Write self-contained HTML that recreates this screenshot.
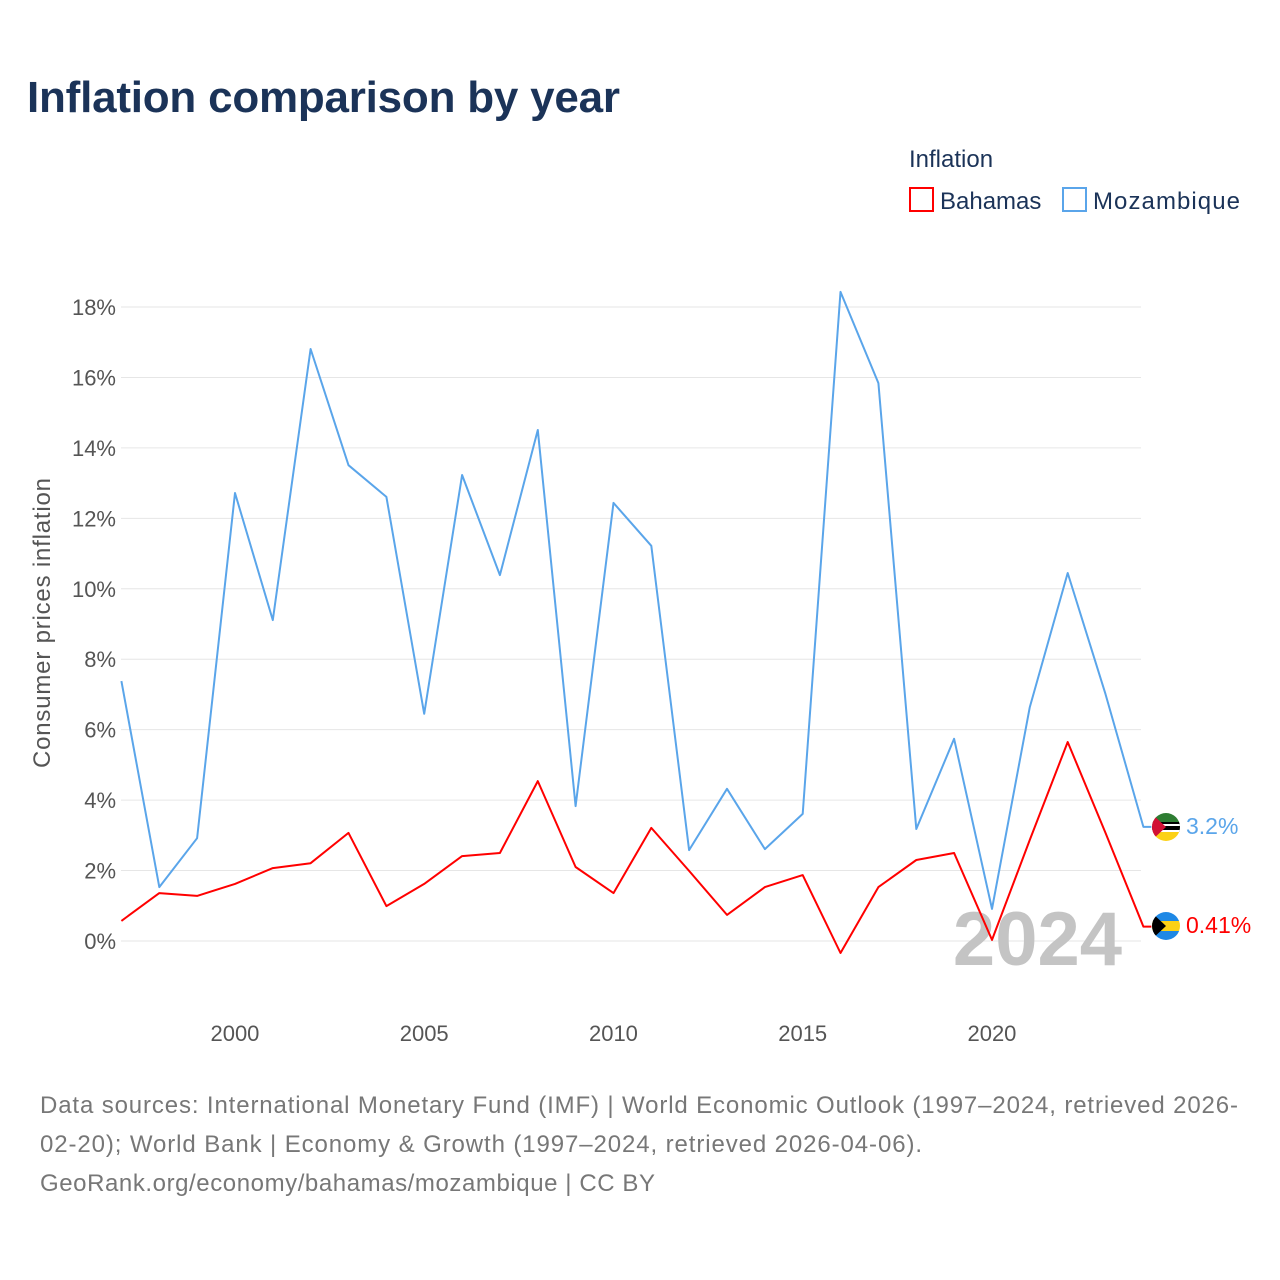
<!DOCTYPE html>
<html><head><meta charset="utf-8">
<style>
body{margin:0;background:#fff;font-family:"Liberation Sans",sans-serif;}
#wrap{position:relative;width:1280px;height:1280px;overflow:hidden;}
</style></head>
<body>
<div id="wrap">
<svg id="chart" width="1280" height="1280" xmlns="http://www.w3.org/2000/svg">
<text x="27" y="112" font-size="44" font-weight="bold" fill="#1b3358" textLength="593">Inflation comparison by year</text>
<text x="909" y="167" font-size="24" fill="#1b3358">Inflation</text>
<g><rect x="910" y="188" width="23" height="23" fill="none" stroke="#f00" stroke-width="2"/><text x="940" y="209" font-size="24" fill="#1b3358">Bahamas</text></g>
<g><rect x="1063" y="188" width="23" height="23" fill="none" stroke="#5aa5ea" stroke-width="2"/><text x="1093" y="209" font-size="24" fill="#1b3358" textLength="147">Mozambique</text></g>
<g id="grid"></g>
<g id="yticks"></g>
<g id="xticks"></g>
<text transform="translate(50,623) rotate(-90)" text-anchor="middle" font-size="24" fill="#555" textLength="290">Consumer prices inflation</text>
<text x="1122" y="965" text-anchor="end" font-size="76" font-weight="bold" fill="#c4c4c4">2024</text>
<g id="series"></g>
<g>
<clipPath id="c1"><circle cx="1166" cy="827" r="14"/></clipPath>
<g clip-path="url(#c1)"><rect x="1150" y="812" width="32" height="10" fill="#2e7d32"/><rect x="1150" y="822" width="32" height="10" fill="#000"/><rect x="1150" y="824" width="32" height="2" fill="#fff"/><rect x="1150" y="830" width="32" height="2" fill="#fff"/><rect x="1150" y="832" width="32" height="10" fill="#fcd116"/><polygon points="1150,812 1166,827 1150,842" fill="#d21034"/></g></g>
<g>
<clipPath id="c2"><circle cx="1166" cy="926" r="14"/></clipPath>
<g clip-path="url(#c2)"><rect x="1150" y="911" width="32" height="10" fill="#1e88e5"/><rect x="1150" y="921" width="32" height="10" fill="#fcd116"/><rect x="1150" y="931" width="32" height="10" fill="#1e88e5"/><polygon points="1150,911 1166,926 1150,941" fill="#000"/></g></g>
<text x="1186" y="834" font-size="23" fill="#5aa5ea">3.2%</text>
<text x="1186" y="933" font-size="23" fill="#f00">0.41%</text>
<g font-size="24" fill="#777">
<text x="40" y="1113" textLength="1198">Data sources: International Monetary Fund (IMF) | World Economic Outlook (1997–2024, retrieved 2026-</text>
<text x="40" y="1152" textLength="882">02-20); World Bank | Economy &amp; Growth (1997–2024, retrieved 2026-04-06).</text>
<text x="40" y="1191" textLength="615">GeoRank.org/economy/bahamas/mozambique | CC BY</text>
</g>
</svg>
</div>
<script>
const years=[1997,1998,1999,2000,2001,2002,2003,2004,2005,2006,2007,2008,2009,2010,2011,2012,2013,2014,2015,2016,2017,2018,2019,2020,2021,2022,2023,2024];
const mozambique=[7.38,1.53,2.92,12.72,9.11,16.81,13.51,12.61,6.45,13.23,10.39,14.51,3.83,12.44,11.22,2.58,4.32,2.61,3.61,18.43,15.84,3.18,5.74,0.91,6.64,10.45,7.01,3.24];
const bahamas=[0.57,1.36,1.28,1.62,2.07,2.21,3.07,0.99,1.62,2.41,2.5,4.54,2.1,1.36,3.21,1.99,0.74,1.53,1.87,-0.34,1.53,2.3,2.5,0.03,2.87,5.65,3.07,0.41];
const yTicks=[0,2,4,6,8,10,12,14,16,18];
const xTicks=[2000,2005,2010,2015,2020];
const NS="http://www.w3.org/2000/svg";
const xS=y=>121.4+(y-1997)*37.85;
const yS=v=>941-v*35.22;
function mk(t,a,p){const e=document.createElementNS(NS,t);for(const k in a)e.setAttribute(k,a[k]);document.getElementById(p).appendChild(e);return e;}
yTicks.forEach(t=>{
  const l=mk('line',{x1:121,x2:1141,y1:yS(t),y2:yS(t),stroke:'#e6e6e6','stroke-width':1},'grid');
  
  
  const tx=mk('text',{x:116,y:yS(t)+8,'text-anchor':'end','font-size':22,fill:'#555'},'yticks');
  tx.textContent=t+'%';
  
  
});
xTicks.forEach(t=>{
  const tx=mk('text',{x:xS(t),y:1041,'text-anchor':'middle','font-size':22,fill:'#555'},'xticks');
  tx.textContent=t;
  
  
});
function line(vals,color,name){
  let d=vals.map((v,i)=>(i?'L':'M')+xS(years[i]).toFixed(1)+','+yS(v).toFixed(1)).join(' ');
  d+=' L'+(xS(years[years.length-1])+8)+','+yS(vals[vals.length-1]).toFixed(1);
  const p=mk('path',{d:d,fill:'none',stroke:color,'stroke-width':2,'stroke-linejoin':'round'},'series');
  
  
}
line(mozambique,'#5aa5ea','mozambique-line');
line(bahamas,'#f00','bahamas-line');
</script>
</body></html>
